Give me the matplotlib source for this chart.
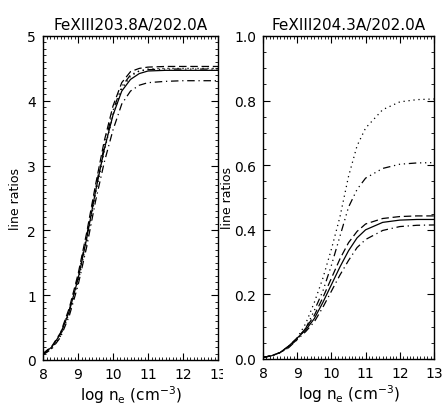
import numpy as np
import matplotlib
matplotlib.use('Agg')
import matplotlib.pyplot as plt
from matplotlib.ticker import MultipleLocator
from matplotlib.transforms import Bbox, TransformedBbox

# log electron density grid (cm^-3)
log_ne = [8.0, 8.25, 8.5, 8.75, 9.0, 9.25, 9.5, 9.75, 10.0, 10.25, 10.5,
          10.75, 11.0, 11.5, 12.0, 12.5, 13.0]

# FeXIII 203.8/202.0
r1_solid = [0.09, 0.2, 0.4, 0.75, 1.25, 1.88, 2.6, 3.25, 3.78, 4.15, 4.33,
            4.42, 4.46, 4.47, 4.47, 4.47, 4.47]
r1_dash = [0.1, 0.21, 0.42, 0.8, 1.32, 1.97, 2.7, 3.38, 3.92, 4.28, 4.45,
           4.5, 4.52, 4.53, 4.53, 4.53, 4.53]
r1_dot = [0.08, 0.18, 0.37, 0.72, 1.2, 1.82, 2.55, 3.22, 3.78, 4.18, 4.38,
          4.46, 4.49, 4.5, 4.5, 4.5, 4.5]
r1_dashdot = [0.08, 0.17, 0.35, 0.68, 1.15, 1.75, 2.45, 3.05, 3.55, 3.95, 4.15,
              4.24, 4.28, 4.3, 4.31, 4.31, 4.31]
r1_dash3dot = [0.09, 0.2, 0.4, 0.77, 1.28, 1.92, 2.65, 3.3, 3.85, 4.22, 4.4,
               4.46, 4.48, 4.49, 4.49, 4.49, 4.49]

# FeXIII 204.3/202.0
r2_solid = [0.005, 0.01, 0.02, 0.04, 0.065, 0.09, 0.125, 0.175, 0.23, 0.285,
            0.335, 0.375, 0.4, 0.423, 0.43, 0.432, 0.432]
r2_dash = [0.005, 0.01, 0.02, 0.04, 0.065, 0.095, 0.135, 0.19, 0.25, 0.31,
           0.36, 0.395, 0.418, 0.435, 0.441, 0.443, 0.443]
r2_dot = [0.005, 0.01, 0.02, 0.035, 0.065, 0.11, 0.175, 0.25, 0.34, 0.44,
          0.565, 0.66, 0.715, 0.772, 0.796, 0.803, 0.805]
r2_dashdot = [0.005, 0.01, 0.02, 0.038, 0.06, 0.085, 0.115, 0.16, 0.21, 0.26,
              0.305, 0.345, 0.37, 0.398, 0.41, 0.414, 0.415]
r2_dash3dot = [0.005, 0.01, 0.02, 0.035, 0.06, 0.095, 0.15, 0.21, 0.29, 0.38,
               0.47, 0.525, 0.56, 0.59, 0.603, 0.607, 0.608]

titles = ['FeXIII203.8A/202.0A', 'FeXIII204.3A/202.0A']

# IDL-like line styles
styles = {
    'solid': dict(ls='-'),
    'dash': dict(ls=(0, (6, 3))),
    'dot': dict(ls=(0, (1, 3))),
    'dashdot': dict(ls=(0, (6, 3, 1, 3))),
    'dash3dot': dict(ls=(0, (6, 3, 1, 3, 1, 3, 1, 3))),
}

plt.rcParams['font.family'] = 'DejaVu Sans'
fig = plt.figure(figsize=(4.45, 4.10), dpi=100)
ax1 = fig.add_axes([43/445, 1-361/410, 175/445, 324/410])
ax2 = fig.add_axes([263/445, 1-360/410, 171/445, 323/410])

for ax, data in [(ax1, [r1_solid, r1_dash, r1_dot, r1_dashdot, r1_dash3dot]),
                 (ax2, [r2_solid, r2_dash, r2_dot, r2_dashdot, r2_dash3dot])]:
    for key, y in zip(['solid', 'dash', 'dot', 'dashdot', 'dash3dot'], data):
        ax.plot(log_ne, y, color='black', lw=0.9, **styles[key])

ax1.set_ylim(0, 5)
ax1.yaxis.set_major_locator(MultipleLocator(1))
ax1.yaxis.set_minor_locator(MultipleLocator(0.1))
ax2.set_ylim(0, 1.0)
ax2.yaxis.set_major_locator(MultipleLocator(0.2))
ax2.yaxis.set_minor_locator(MultipleLocator(0.05))
ax2.yaxis.set_major_formatter(plt.FormatStrFormatter('%.1f'))

for ax, t in zip([ax1, ax2], titles):
    ax.set_xlim(8, 13)
    ax.xaxis.set_major_locator(MultipleLocator(1))
    ax.xaxis.set_minor_locator(MultipleLocator(0.1))
    ax.tick_params(which='both', direction='in', top=True, right=True,
                   labelsize=10, pad=5)
    ax.tick_params(which='major', length=5, width=0.8)
    ax.tick_params(which='minor', length=2.5, width=0.6)
    for s in ax.spines.values():
        s.set_linewidth(1.0)
    ax.set_title(t, fontsize=11, pad=5)
    ax.set_xlabel(r'log n$_\mathregular{e}$ (cm$^{-3}$)', fontsize=11, labelpad=2)

ax1.set_ylabel('line ratios', fontsize=9, labelpad=4)
ax2.set_ylabel('line ratios', fontsize=9, labelpad=0)

# the right panel hides the tail of the left "13" label
clip = TransformedBbox(Bbox([[0, 0], [223/445, 1]]), fig.transFigure)
for lab in ax1.get_xticklabels():
    lab.set_clip_box(clip)
    lab.set_clip_on(True)

fig.savefig('out.png', dpi=100)
